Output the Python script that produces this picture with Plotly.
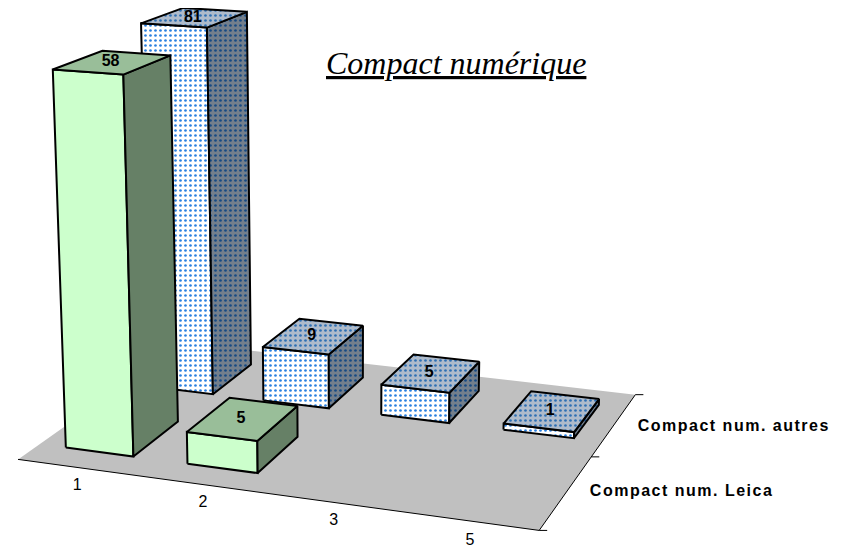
import numpy as np
import plotly.graph_objects as go

categories = ["1", "2", "3", "5"]
series_names = ["Compact num. Leica", "Compact num. autres"]
leica_values = [58, 5, None, None]
autres_values = [81, 9, 5, 1]
title_text = "Compact numérique"

AXIS_MAX = 60          # the value axis stops at 60, so the 81 bar is cut off there
BAR_W, BAR_D = 0.56, 0.54

# camera of the 3-D chart: (category, series, value, 1) -> page pixels
CAMERA = np.array([
    [119.7968563512917, 97.73949480102085, -0.2700069085491919, 18.007024999504207],
    [7.432615692039909, -29.424749785519936, -6.670553480455444, 459.37898505266014],
    [-0.019468358021964678, 0.0840333693447999, -0.0007832040159811823, 1.0],
])

def proj(x, y, z):
    h = CAMERA @ np.array([x, y, z, 1.0])
    return h[0] / h[2], h[1] / h[2]

LINE = "#000000"
STYLES = [
    dict(front=dict(fill="#CCFFCC"), top=dict(fill="#99BE99"), side=dict(fill="#668066")),
    dict(front=dict(fill="#FFFFFF", dots="#2A80E0", sol=0.22),
         top=dict(fill="#AEBBCB", dots="#2E70B4", sol=0.22),
         side=dict(fill="#737F8C", dots="#174A84", sol=0.22)),
]

fig = go.Figure()

def face(points, st, width=2):
    xs, ys = zip(*[proj(*p) for p in points])
    kw = dict(x=list(xs) + [xs[0]], y=list(ys) + [ys[0]], mode="lines", fill="toself",
              line=dict(color=LINE, width=width), hoverinfo="skip", showlegend=False)
    kw["fillcolor"] = st["fill"]
    if "dots" in st:
        kw["fillpattern"] = dict(shape=".", fgcolor=st["dots"], bgcolor=st["fill"],
                                 fgopacity=1, size=5, solidity=st["sol"])
    fig.add_trace(go.Scatter(**kw))

def bar(i, s, value):
    h = min(value, AXIS_MAX)
    x0, x1 = i + .5 - BAR_W / 2, i + .5 + BAR_W / 2
    y0, y1 = s + .5 - BAR_D / 2, s + .5 + BAR_D / 2
    st = STYLES[s]
    face([(x0, y0, 0), (x1, y0, 0), (x1, y0, h), (x0, y0, h)], st["front"])
    face([(x1, y0, 0), (x1, y1, 0), (x1, y1, h), (x1, y0, h)], st["side"])
    face([(x0, y0, h), (x1, y0, h), (x1, y1, h), (x0, y1, h)], st["top"])

# floor
n_cat, n_ser = len(categories), len(series_names)
fx, fy = zip(*[proj(*p) for p in [(0, 0, 0), (n_cat, 0, 0), (n_cat, n_ser, 0), (0, n_ser, 0)]])
fig.add_trace(go.Scatter(x=list(fx) + [fx[0]], y=list(fy) + [fy[0]], mode="lines", fill="toself",
                         fillcolor="#C0C0C0", line=dict(width=0), hoverinfo="skip", showlegend=False))
# axis lines and ticks
ax, ay = zip(*[proj(*p) for p in [(0, 0, 0), (n_cat, 0, 0), (n_cat, n_ser, 0)]])
fig.add_trace(go.Scatter(x=ax, y=ay, mode="lines", line=dict(color=LINE, width=1),
                         hoverinfo="skip", showlegend=False))
for s in range(n_ser + 1):
    tx, ty = proj(n_cat, s, 0)
    fig.add_trace(go.Scatter(x=[tx, tx + 8], y=[ty, ty], mode="lines", line=dict(color=LINE, width=1),
                             hoverinfo="skip", showlegend=False))

# bars: back row first, left to right
for s, vals in [(1, autres_values), (0, leica_values)]:
    for i, v in enumerate(vals):
        if v is not None:
            bar(i, s, v)

# data labels on the top faces
lx, ly, lt = [], [], []
for s, vals in [(1, autres_values), (0, leica_values)]:
    for i, v in enumerate(vals):
        if v is not None:
            px, py = proj(i + .5, s + .5, min(v, AXIS_MAX))
            lx.append(px - 2); ly.append(py); lt.append(str(v))
fig.add_trace(go.Scatter(x=lx, y=ly, text=lt, mode="text", textposition="middle center",
                         textfont=dict(family="Liberation Sans", size=16, color="#000000", weight="bold"),
                         hoverinfo="skip", showlegend=False))

# category labels below the front edge
cx, cy = [], []
for i in range(n_cat):
    px, py = proj(.5 + i * .985, -0.28, 0)
    cx.append(px + 25); cy.append(py - 2)
fig.add_trace(go.Scatter(x=cx, y=cy, text=categories, mode="text", textposition="middle center",
                         textfont=dict(family="Liberation Sans", size=16, color="#000000"),
                         hoverinfo="skip", showlegend=False))

# series labels to the right of the depth axis
sx, sy = [], []
for s in range(n_ser):
    px, py = proj(n_cat, s + .5, 0)
    sx.append(px + 23.5); sy.append(py + 2 * s)
spaced = [f'<span style="letter-spacing:1.5px">{n}</span>' for n in series_names]
fig.add_trace(go.Scatter(x=sx, y=sy, text=spaced, mode="text", textposition="middle right",
                         textfont=dict(family="Liberation Sans", size=16, color="#000000", weight="bold"),
                         hoverinfo="skip", showlegend=False))

fig.add_annotation(x=456, y=62.5, xref="x", yref="y", showarrow=False,
                   text=f"<i><u>{title_text}</u></i>",
                   font=dict(family="Liberation Serif", size=32, color="#000000"))

# the page body has an 8 px margin: the axes run from page pixel 8 to the window edge
fig.update_layout(width=844, height=543, margin=dict(l=0, r=0, t=0, b=0),
                  paper_bgcolor="#FFFFFF", plot_bgcolor="#FFFFFF", showlegend=False,
                  xaxis=dict(range=[8, 852], visible=False, fixedrange=True),
                  yaxis=dict(range=[551, 8], visible=False, fixedrange=True))
fig.write_html("out.html", config=dict(displayModeBar=False))
